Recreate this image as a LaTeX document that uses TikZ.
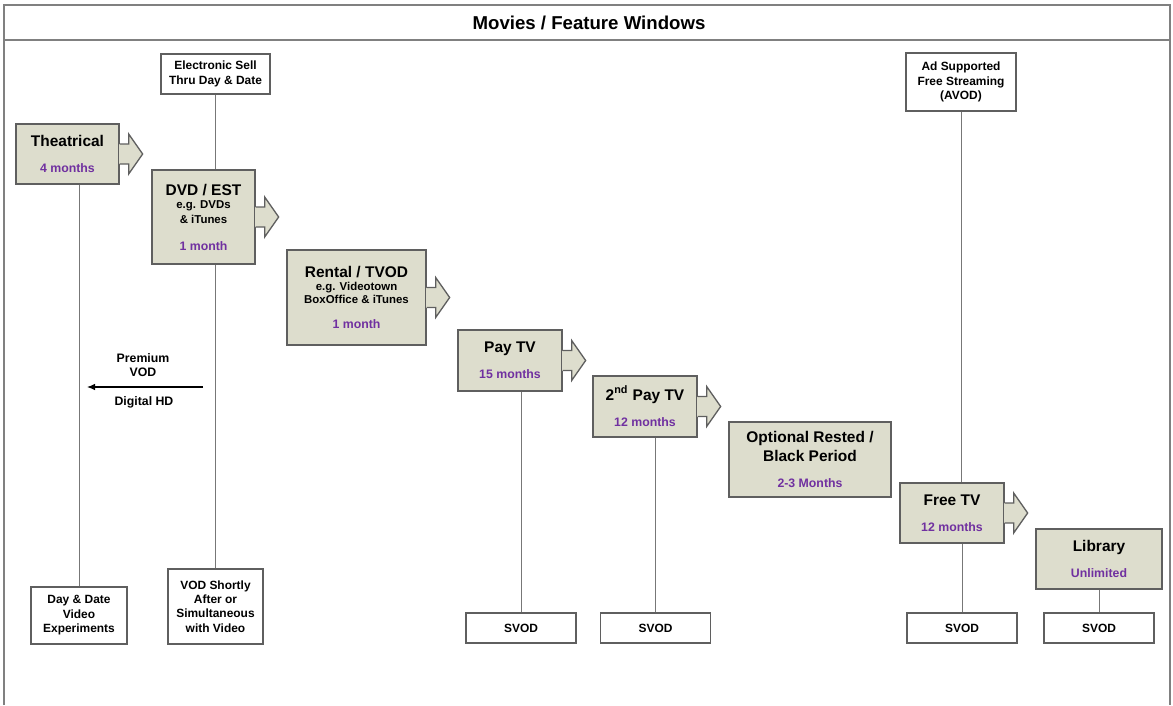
\documentclass[tikz,border=0pt]{standalone}
\usepackage{fontspec}
\setmainfont{Liberation Sans}
\usepackage{xcolor}
\usepackage{tikz}
\usetikzlibrary{arrows.meta, positioning, calc}

\definecolor{winfill}{RGB}{221,221,205}
\definecolor{winedge}{RGB}{95,95,95}
\definecolor{winpurple}{RGB}{112,48,160}
\definecolor{framegray}{RGB}{128,128,128}

\newcommand{\wtitle}{\fontsize{8.8}{7.4}\selectfont}
\newcommand{\wsub}{\fontsize{6.5}{7.4}\selectfont}
\newcommand{\wmonth}{\fontsize{7}{7.4}\selectfont\color{winpurple}}

\begin{document}
\begin{tikzpicture}[
  window/.style={rectangle, draw=winedge, line width=0.75pt, fill=winfill, align=center, font=\bfseries\fontsize{7}{7.4}\selectfont, inner sep=0pt},
  outlet/.style={rectangle, draw=winedge, line width=0.75pt, fill=white, align=center, font=\bfseries\fontsize{6.8}{8.2}\selectfont, inner sep=0pt, minimum height=0.6cm},
  link/.style={draw=winedge!85, line width=0.55pt},
  early/.style={-{Latex[length=1.6mm, width=1.3mm]}, line width=0.6pt, black},
  note/.style={font=\bfseries\fontsize{7}{8.3}\selectfont, align=center}
]
\useasboundingbox (0,0) rectangle (23.46,14.1);
\draw[framegray, line width=0.8pt] (0.08,0) -- (0.08,14.0) -- (23.4,14.0) -- (23.4,0);
\draw[framegray, line width=0.8pt] (0.08,13.3) -- (23.4,13.3);
\node[font=\bfseries\fontsize{10.6}{12}\selectfont] (title) at (11.78,13.65) {Movies / Feature Windows};
% release windows
\node[window, minimum width=2.06cm, minimum height=1.2cm] (theat) at (1.35,11.02) {\wtitle Theatrical\\[7.3pt]\wmonth 4 months};
\node[window, minimum width=2.06cm, minimum height=1.88cm] (dvd) at (4.07,9.76) {\wtitle DVD / EST\\[0.4pt]\wsub e.g. DVDs\\[0.9pt]\wsub \& iTunes\\[7.8pt]\wmonth 1 month};
\node[window, minimum width=2.78cm, minimum height=1.9cm] (rent) at (7.13,8.15) {\wtitle Rental / TVOD\\\wsub e.g. Videotown\\\wsub BoxOffice \& iTunes\\[7.3pt]\wmonth 1 month};
\node[window, minimum width=2.08cm, minimum height=1.22cm] (pay) at (10.2,6.89) {\wtitle Pay TV\\[7.6pt]\wmonth 15 months};
\node[window, minimum width=2.08cm, minimum height=1.22cm] (pay2) at (12.9,5.97) {\wtitle 2\textsuperscript{nd} Pay TV\\[7.6pt]\wmonth 12 months};
\node[window, minimum width=3.24cm, minimum height=1.5cm] (rest) at (16.2,4.91) {\wtitle Optional Rested /\\[1.6pt]\wtitle Black Period\\[7.6pt]\wmonth 2-3 Months};
\node[window, minimum width=2.08cm, minimum height=1.2cm] (free) at (19.04,3.84) {\wtitle Free TV\\[7.6pt]\wmonth 12 months};
\node[window, minimum width=2.52cm, minimum height=1.2cm] (lib) at (21.98,2.92) {\wtitle Library\\[7.6pt]\wmonth Unlimited};
% arrow tabs
\foreach \w in {theat,dvd,rent,pay,pay2,free} {
  \fill[winfill] ([xshift=-0.5pt,yshift=-0.2cm]\w.east) rectangle ([xshift=0.18cm,yshift=0.2cm]\w.east);
  \draw[winedge, line width=0.75pt, fill=winfill] ([yshift=0.2cm]\w.east) -- ++(0.18,0) -- ++(0,0.2) -- ([xshift=0.46cm]\w.east) -- ([xshift=0.18cm,yshift=-0.4cm]\w.east) -- ++(0,0.2) -- ([yshift=-0.2cm]\w.east);
}
% other outlets
\node[outlet, minimum width=2.18cm, minimum height=0.8cm] (esell) at (4.31,12.62) {Electronic Sell\\Thru Day \& Date};
\node[outlet, minimum width=2.2cm, minimum height=1.16cm] (avod) at (19.22,12.46) {Ad Supported\\Free Streaming\\(AVOD)};
\node[outlet, minimum width=1.92cm, minimum height=1.14cm] (dday) at (1.58,1.79) {Day \& Date\\Video\\Experiments};
\node[outlet, minimum width=1.9cm, minimum height=1.5cm] (vods) at (4.31,1.97) {VOD Shortly\\After or\\Simultaneous\\with Video};
\node[outlet, minimum width=2.2cm] (svod1) at (10.42,1.54) {SVOD};
\node[outlet, minimum width=2.2cm] (svod2) at (13.11,1.54) {SVOD};
\node[outlet, minimum width=2.2cm] (svod3) at (19.24,1.54) {SVOD};
\node[outlet, minimum width=2.2cm] (svod4) at (21.98,1.54) {SVOD};
\draw[link] (esell) -- (esell |- dvd.north);
\draw[link] (dday) -- (dday |- theat.south);
\draw[link] (vods) -- (vods |- dvd.south);
\draw[link] (svod1) -- (svod1 |- pay.south);
\draw[link] (svod2) -- (svod2 |- pay2.south);
\draw[link] (avod) -- (avod |- free.north);
\draw[link] (svod3) -- (svod3 |- free.south);
\draw[link] (lib) -- (svod4);
% premium vod
\coordinate (pvstart) at (4.06,6.36);
\coordinate (pvend) at (1.74,6.36);
\draw[early] (pvstart) -- (pvend);
\node[note] (pvod) at (2.86,6.80) {Premium\\VOD};
\node[note] (dhd) at (2.88,6.06) {Digital HD};
\end{tikzpicture}
\end{document}
